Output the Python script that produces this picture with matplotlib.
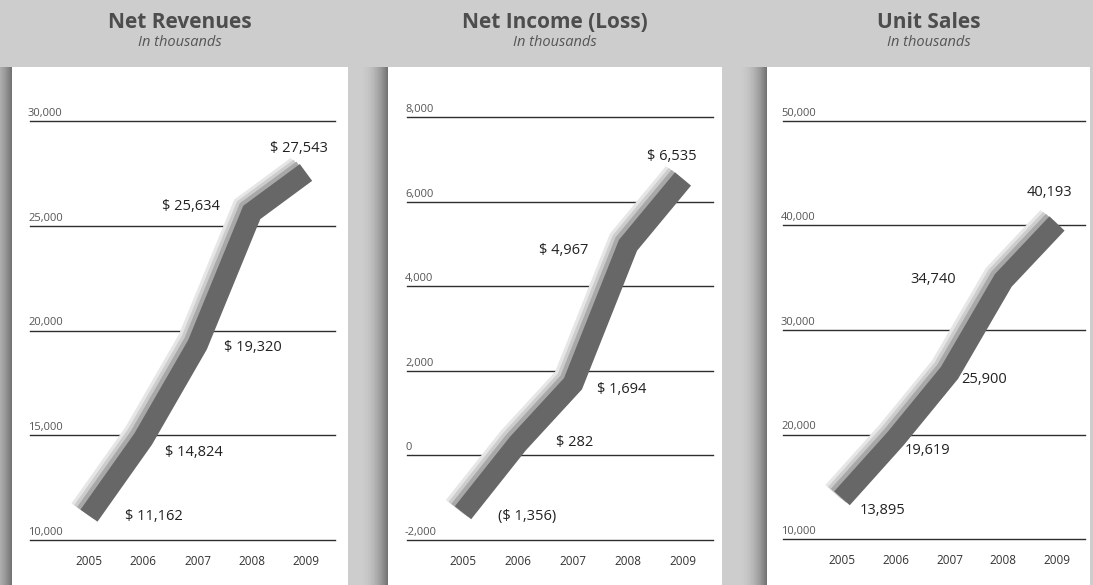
import numpy as np
import matplotlib
matplotlib.use("Agg")
import matplotlib.pyplot as plt
import matplotlib.patheffects as pe

plt.rcParams["font.family"] = ["Open Sans", "DejaVu Sans"]
plt.rcParams["text.parse_math"] = False

# Data
years = [2005, 2006, 2007, 2008, 2009]
net_revenues = [11162, 14824, 19320, 25634, 27543]
net_income = [-1356, 282, 1694, 4967, 6535]
unit_sales = [13895, 19619, 25900, 34740, 40193]

revenue_grid = [10000, 15000, 20000, 25000, 30000]
income_grid = [-2000, 0, 2000, 4000, 6000, 8000]
units_grid = [10000, 20000, 30000, 40000, 50000]

titles = ["Net Revenues", "Net Income (Loss)", "Unit Sales"]
subtitle = "In thousands"

# Figure size in pixels
W, H = 1093, 585
BG = "#cdcdcd"


def money(v):
    if v < 0:
        return "($ {:,})".format(abs(v))
    return "$ {:,}".format(v)


def plain(v):
    return "{:,}".format(v)


def px_box(left, top, right, bottom):
    # pixel box -> figure fraction rect
    return [left / W, 1 - bottom / H, (right - left) / W, (bottom - top) / H]


def shadow_strip(ax, x0, x1, y0, y1, strength=0.45):
    ramp = np.linspace(0, 1, 64) ** 2.2
    img = np.zeros((2, 64, 4))
    img[..., 3] = ramp * strength
    ax.imshow(img, extent=(x0, x1, y1, y0), aspect="auto",
              interpolation="bilinear", zorder=1)


fig = plt.figure(figsize=(W / 100, H / 100), dpi=100, facecolor=BG)

# Background / decoration layer in pixel coordinates
bg = fig.add_axes([0, 0, 1, 1])
bg.set_xlim(0, W)
bg.set_ylim(H, 0)
bg.axis("off")

panels = [(12, 348), (388, 722), (767, 1090)]
for (pl, pr), title in zip(panels, titles):
    shadow_strip(bg, pl - 30, pl, 67, H)
    bg.add_patch(plt.Rectangle((pl, 67), pr - pl, H - 67,
                               facecolor="white", edgecolor="none", zorder=2))
    cx = (pl + pr) / 2
    bg.text(cx, 22, title, ha="center", va="center", fontsize=15,
            fontweight="bold", color="#4d4d4d")
    bg.text(cx, 43, subtitle, ha="center", va="center", fontsize=10.5,
            style="italic", color="#555555")

# Chart specs: axes pixel box, pixel x of 2005/2009, values, grid, label format, label offsets
charts = [
    dict(box=(30, 121, 335, 540), x05=89, x09=306, values=net_revenues,
         grid=revenue_grid, fmt=money,
         offsets=[(65, -1), (51, -14), (55, -3), (-61, 6), (-7, 24)]),
    dict(box=(407, 117, 713, 540), x05=463, x09=683, values=net_income,
         grid=income_grid, fmt=money,
         offsets=[(64, -4), (57, 1), (49, -6), (-64, -5), (-11, 22)]),
    dict(box=(783, 121, 1085, 539), x05=842, x09=1057, values=unit_sales,
         grid=units_grid, fmt=plain,
         offsets=[(41, -12), (32, -12), (35, -7), (-70, 1), (-8, 31)]),
]

for c in charts:
    l, t, r, b = c["box"]
    ax = fig.add_axes(px_box(l, t, r, b))
    ax.patch.set_alpha(0)
    per_year = (c["x09"] - c["x05"]) / 4
    ax.set_xlim(2005 - (c["x05"] - l) / per_year, 2009 + (r - c["x09"]) / per_year)
    ax.set_ylim(c["grid"][0], c["grid"][-1])
    for s in ax.spines.values():
        s.set_visible(False)
    ax.set_yticks([])
    ax.set_xticks(years)
    ax.set_xticklabels([str(y) for y in years], fontsize=8.5, color="#333333")
    ax.tick_params(axis="x", length=0, pad=11)

    for g in c["grid"]:
        ax.axhline(g, color="#2e2e2e", lw=1.0, zorder=1, clip_on=False)
        ax.annotate("{:,}".format(g), xy=(0, g),
                    xycoords=("axes fraction", "data"),
                    xytext=(-2, 5), textcoords="offset pixels",
                    ha="left", va="baseline", fontsize=8, color="#555555")

    ax.plot(years, c["values"], color="#676767", lw=15,
            solid_capstyle="butt", solid_joinstyle="miter", clip_on=False,
            zorder=3,
            path_effects=[
                pe.SimpleLineShadow(offset=(-6.5, 4.5), shadow_color="#e6e6e6", alpha=1),
                pe.SimpleLineShadow(offset=(-4.5, 3.2), shadow_color="#cccccc", alpha=1),
                pe.SimpleLineShadow(offset=(-2.5, 1.8), shadow_color="#a8a8a8", alpha=1),
                pe.Normal(),
            ])

    for yr, v, off in zip(years, c["values"], c["offsets"]):
        ax.annotate(c["fmt"](v), xy=(yr, v), xytext=off,
                    textcoords="offset pixels", ha="center", va="center",
                    fontsize=10.5, color="#222222", zorder=4)

fig.savefig("out.png", dpi=100, facecolor=BG)
